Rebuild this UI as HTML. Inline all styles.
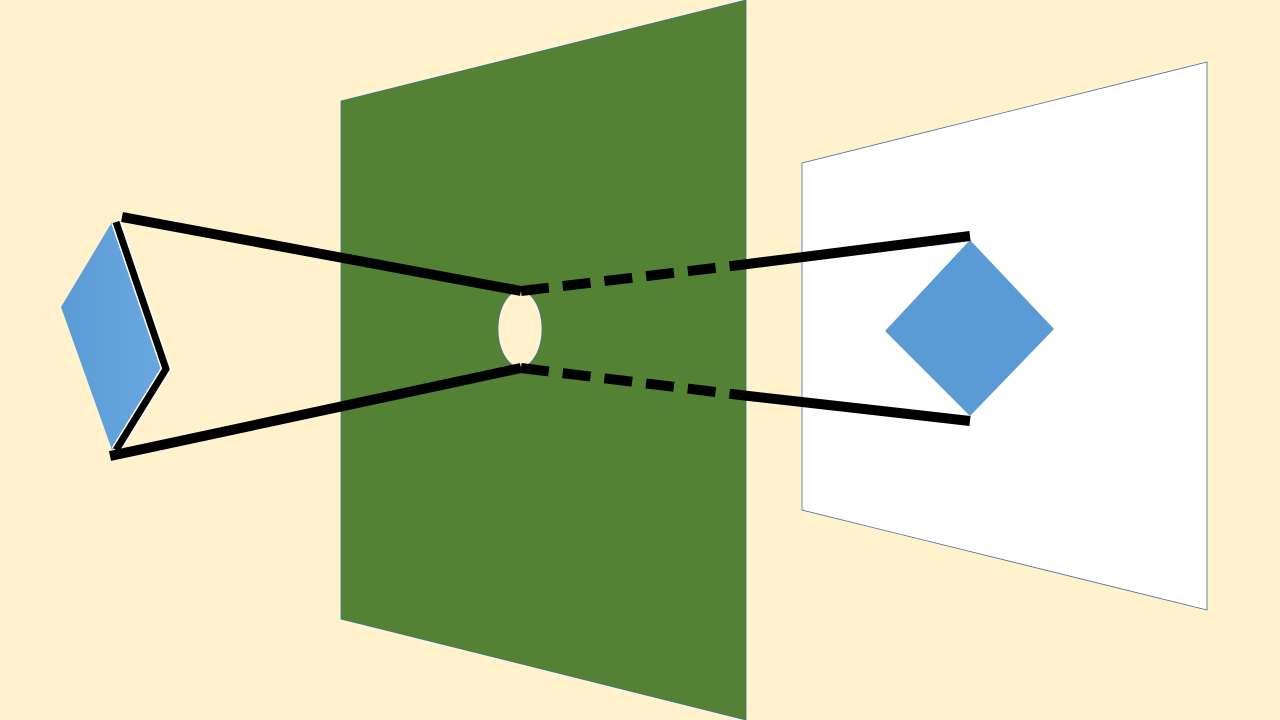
<!DOCTYPE html>
<html><head><meta charset="utf-8"><style>html,body{margin:0;padding:0;background:#fff2cc;}svg{display:block}</style></head>
<body>
<svg width="1280" height="720" viewBox="0 0 1280 720" xmlns="http://www.w3.org/2000/svg">
<rect width="1280" height="720" fill="#fff2cc"/>
<polygon points="341,101 746,0 746,720 341,619" fill="#548235" stroke="#41719c" stroke-width="0.8"/>
<ellipse cx="520" cy="329" rx="22" ry="38" fill="#fff2cc" stroke="#41719c" stroke-width="0.8"/>
<polygon points="802,163 1207,62 1207,610 802,510" fill="#ffffff" stroke="#41719c" stroke-width="0.8"/>
<polygon points="970,240 1054,329 970,416 885,331" fill="#5b9bd5"/>
<defs><linearGradient id="g" x1="0" y1="0" x2="1" y2="0"><stop offset="0" stop-color="#5b9bd5"/><stop offset="1" stop-color="#6aa8e0"/></linearGradient></defs>
<polygon points="112,222 167,369 112,450 61,307" fill="url(#g)"/>
<polyline points="116,222 166,369 116,450" fill="none" stroke="#fff" stroke-width="10"/>
<polyline points="116,222 166,369 116,450" fill="none" stroke="#000" stroke-width="7"/>
<g stroke="#000" stroke-width="10" fill="none">
<line x1="122" y1="217" x2="521" y2="291"/>
<line x1="110" y1="456" x2="521" y2="368"/>
<line x1="521" y1="291" x2="740" y2="265" stroke-dasharray="28,14"/>
<line x1="521" y1="368" x2="740" y2="395" stroke-dasharray="28,14"/>
<line x1="740" y1="265" x2="970" y2="236"/>
<line x1="740" y1="395" x2="970" y2="421"/>
</g>
</svg>
</body></html>
